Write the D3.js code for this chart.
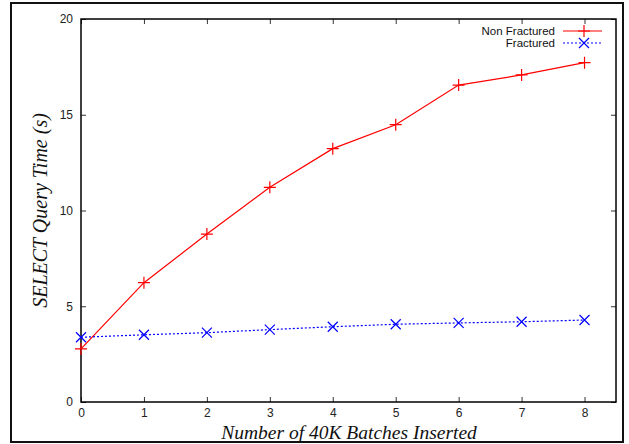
<!DOCTYPE html>
<html lang="en">
<head>
    <meta charset="UTF-8">
    <title>SELECT Query Time</title>
    <style>
        body { margin: 0; background: #fff; }
    </style>
</head>
<body>
    <script src="https://cdn.jsdelivr.net/npm/d3@7"></script>
    <script>
        // data
        const batches = [0, 1, 2, 3, 4, 5, 6, 7, 8];
        const nonFractured = [2.77, 6.23, 8.77, 11.21, 13.23, 14.48, 16.55, 17.08, 17.72];
        const fractured = [3.38, 3.51, 3.62, 3.78, 3.93, 4.06, 4.13, 4.19, 4.28];
        const xTicks = [0, 1, 2, 3, 4, 5, 6, 7, 8];
        const yTicks = [0, 5, 10, 15, 20];

        const w = 629;
        const h = 444;
        const plot = { left: 81, right: 616, top: 19, bottom: 402 };

        const svg = d3.select('body')
            .append('svg')
            .attr('width', w)
            .attr('height', h);

        const xScale = d3.scaleLinear()
            .domain([0, 8.5])
            .range([plot.left, plot.right]);

        const yScale = d3.scaleLinear()
            .domain([0, 20])
            .range([plot.bottom, plot.top]);

        // outer frame
        svg.append('rect')
            .attr('x', 11).attr('y', 3)
            .attr('width', 612).attr('height', 439)
            .attr('fill', 'none')
            .attr('stroke', '#111')
            .attr('stroke-width', 2);

        const tickFont = 'Liberation Sans, Arial, sans-serif';

        // inward ticks on all four sides
        const tickLen = 5;
        svg.append('g').attr('transform', `translate(0,${plot.bottom})`)
            .call(d3.axisBottom(xScale).tickValues(xTicks).tickSize(-tickLen).tickPadding(6).tickFormat(d3.format('d')));
        svg.append('g').attr('transform', `translate(0,${plot.top})`)
            .call(d3.axisTop(xScale).tickValues(xTicks).tickSize(-tickLen).tickFormat(''));
        svg.append('g').attr('transform', `translate(${plot.left},0)`)
            .call(d3.axisLeft(yScale).tickValues(yTicks).tickSize(-tickLen).tickPadding(8).tickFormat(d3.format('d')));
        svg.append('g').attr('transform', `translate(${plot.right},0)`)
            .call(d3.axisRight(yScale).tickValues(yTicks).tickSize(-tickLen).tickFormat(''));

        svg.selectAll('.domain').remove();
        svg.selectAll('.tick line').attr('stroke', '#333').attr('stroke-width', 1);
        svg.selectAll('.tick text')
            .attr('font-family', tickFont)
            .attr('font-size', '12px')
            .attr('fill', '#222');

        // plot border
        svg.append('rect')
            .attr('x', plot.left).attr('y', plot.top)
            .attr('width', plot.right - plot.left)
            .attr('height', plot.bottom - plot.top)
            .attr('fill', 'none')
            .attr('stroke', '#000')
            .attr('stroke-width', 1.5);

        const line = d3.line()
            .x((d, i) => xScale(batches[i]))
            .y((d) => yScale(d));

        // Non Fractured
        svg.append('path')
            .datum(nonFractured)
            .attr('d', line)
            .attr('fill', 'none')
            .attr('stroke', '#f00')
            .attr('stroke-width', 1.2);

        const plus = (g, x, y, c) => {
            g.append('path')
                .attr('d', `M${x - 6},${y}H${x + 6}M${x},${y - 6}V${y + 6}`)
                .attr('stroke', c).attr('stroke-width', 1.2).attr('fill', 'none');
        };
        const cross = (g, x, y, c) => {
            g.append('path')
                .attr('d', `M${x - 5},${y - 5}L${x + 5},${y + 5}M${x - 5},${y + 5}L${x + 5},${y - 5}`)
                .attr('stroke', c).attr('stroke-width', 1.2).attr('fill', 'none');
        };

        const redPts = svg.append('g');
        nonFractured.forEach((d, i) => plus(redPts, xScale(batches[i]), yScale(d), '#f00'));

        // Fractured
        svg.append('path')
            .datum(fractured)
            .attr('d', line)
            .attr('fill', 'none')
            .attr('stroke', '#00f')
            .attr('stroke-width', 1.2)
            .attr('stroke-dasharray', '2,2');

        const bluePts = svg.append('g');
        fractured.forEach((d, i) => cross(bluePts, xScale(batches[i]), yScale(d), '#00f'));

        // legend
        const legend = svg.append('g');
        const legendRows = [
            { name: 'Non Fractured', color: '#f00', mark: plus, dash: null, y: 31 },
            { name: 'Fractured', color: '#00f', mark: cross, dash: '2,2', y: 43 }
        ];
        legendRows.forEach((r) => {
            legend.append('text')
                .attr('x', 555).attr('y', r.y + 4)
                .attr('text-anchor', 'end')
                .attr('font-family', tickFont)
                .attr('font-size', '11.5px')
                .attr('fill', '#111')
                .text(r.name);
            legend.append('line')
                .attr('x1', 563).attr('x2', 602)
                .attr('y1', r.y).attr('y2', r.y)
                .attr('stroke', r.color).attr('stroke-width', 1.2)
                .attr('stroke-dasharray', r.dash);
            r.mark(legend, 584, r.y, r.color);
        });

        // axis titles
        svg.append('text')
            .attr('x', 349)
            .attr('y', 439)
            .attr('text-anchor', 'middle')
            .attr('font-family', 'Liberation Serif, Times New Roman, serif')
            .attr('font-style', 'italic')
            .attr('font-size', '19.5px')
            .attr('fill', '#111')
            .text('Number of 40K Batches Inserted');

        svg.append('text')
            .attr('transform', `translate(47,${(plot.top + plot.bottom) / 2}) rotate(-90)`)
            .attr('text-anchor', 'middle')
            .attr('font-family', 'Liberation Serif, Times New Roman, serif')
            .attr('font-style', 'italic')
            .attr('font-size', '20px')
            .attr('fill', '#111')
            .text('SELECT Query Time (s)');
    </script>
</body>
</html>
